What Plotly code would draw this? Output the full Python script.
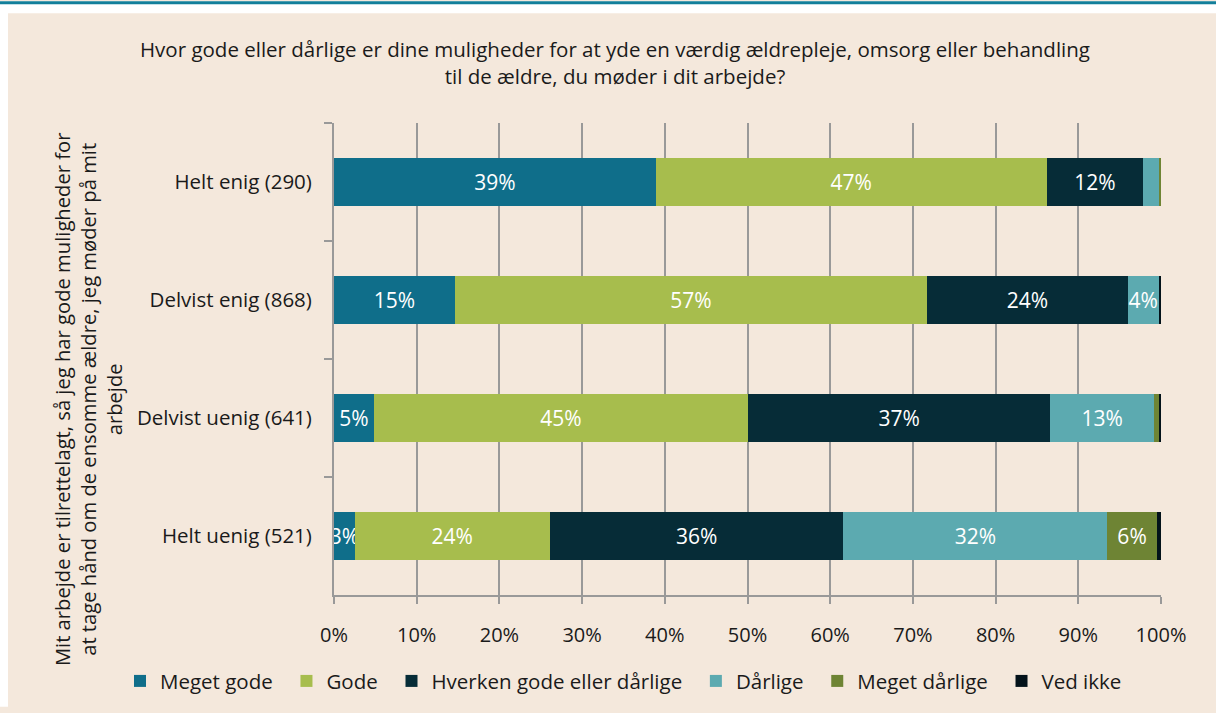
import plotly.graph_objects as go

categories = ["Helt enig (290)", "Delvist enig (868)", "Delvist uenig (641)", "Helt uenig (521)"]
series_names = ["Meget gode", "Gode", "Hverken gode eller dårlige", "Dårlige", "Meget dårlige", "Ved ikke"]
meget_gode = [38.9, 14.6, 4.8, 2.5]
gode = [47.3, 57.1, 45.3, 23.6]
hverken = [11.6, 24.3, 36.5, 35.5]
daarlige = [1.9, 3.7, 12.6, 31.9]
meget_daarlige = [0.3, 0.0, 0.5, 6.0]
ved_ikke = [0.0, 0.3, 0.3, 0.5]
colors = ["#0f6e8a", "#a7bd4d", "#062c37", "#5caab0", "#6e8434", "#03121a"]
x_ticks = [0, 10, 20, 30, 40, 50, 60, 70, 80, 90, 100]
x_ticklabels = [f"{t}%" for t in x_ticks]

title_text = ("Hvor gode eller dårlige er dine muligheder for at yde en værdig ældrepleje, omsorg eller behandling"
              "<br>til de ældre, du møder i dit arbejde?")
ytitle_text = ("Mit arbejde er tilrettelagt, så jeg har gode muligheder for<br>"
               "at tage hånd om de ensomme ældre, jeg møder på mit<br>arbejde")

W, H = 1216, 713
L, R, T, B = 334, 55, 123, 113
PW, PH = W - L - R, H - T - B

def px_x(p):
    return (p - L) / PW

def px_y(p):
    return (H - B - p) / PH

FONT = "Open Sans"
NB = "\u00a0\u2009"
fig = go.Figure()
all_series = [meget_gode, gode, hverken, daarlige, meget_daarlige, ved_ikke]
for i, (name, vals, col) in enumerate(zip(series_names, all_series, colors)):
    labels = [f"{int(v + 0.5)}%" if v >= 2.5 else "" for v in vals]
    fig.add_trace(go.Bar(
        y=categories, x=vals, name=name + (NB if i < len(series_names) - 1 else ""),
        orientation="h",
        marker=dict(color=col, line=dict(width=0)),
        text=labels, textposition="inside", insidetextanchor="middle",
        constraintext="none", textangle=0,
        textfont=dict(color="white", size=21, family=FONT),
        hoverinfo="skip",
    ))

beige = "#f4e8dc"
shapes = [
    dict(type="rect", xref="paper", yref="paper", x0=px_x(0), x1=px_x(W), y0=px_y(12), y1=px_y(0),
         fillcolor="white", line=dict(width=0), layer="above"),
    dict(type="rect", xref="paper", yref="paper", x0=px_x(0), x1=px_x(8), y0=px_y(H), y1=px_y(0),
         fillcolor="white", line=dict(width=0), layer="above"),
    dict(type="rect", xref="paper", yref="paper", x0=px_x(0), x1=px_x(W), y0=px_y(3), y1=px_y(0),
         fillcolor="#137f9a", line=dict(width=0), layer="above"),
]

fig.update_layout(
    width=W, height=H,
    barmode="stack", bargap=0.6,
    paper_bgcolor=beige, plot_bgcolor=beige,
    margin=dict(l=L, r=R, t=T, b=B),
    font=dict(family=FONT, size=20, color="#1a1a1a"),
    showlegend=True,
    legend=dict(orientation="h", x=px_x(120), xanchor="left", y=px_y(687), yanchor="middle",
                font=dict(size=20.5, family=FONT), traceorder="normal",
                itemwidth=30, bgcolor="rgba(0,0,0,0)"),
    shapes=shapes,
    annotations=[
        dict(text=title_text, xref="paper", yref="paper", x=px_x(615), y=px_y(62),
             xanchor="center", yanchor="middle", showarrow=False, align="center",
             font=dict(size=20.5, family=FONT, color="#1a1a1a")),
        dict(text=ytitle_text, xref="paper", yref="paper", x=px_x(88), y=px_y(402),
             xanchor="center", yanchor="middle", showarrow=False, align="center", textangle=-90,
             font=dict(size=20.2, family=FONT, color="#1a1a1a")),
    ],
)
fig.update_xaxes(
    range=[0, 100], tickvals=x_ticks, ticktext=x_ticklabels,
    showgrid=True, gridcolor="#999999", gridwidth=2,
    showline=True, linecolor="#999999", linewidth=2,
    ticks="outside", ticklen=7, tickcolor="#999999", tickwidth=2,
    ticklabelstandoff=14,
    zeroline=False, tickfont=dict(size=20), fixedrange=True,
)
fig.update_yaxes(
    categoryorder="array", categoryarray=categories, autorange="reversed",
    showgrid=False, showline=True, linecolor="#999999", linewidth=2,
    ticks="outside", tickson="boundaries", ticklen=8, tickcolor="#999999", tickwidth=2,
    ticklabelstandoff=16,
    tickfont=dict(size=20.5), fixedrange=True,
)

fig.write_html("out.html", config={"displayModeBar": False},
               post_script="document.body.style.margin='0';document.body.style.padding='0';")
